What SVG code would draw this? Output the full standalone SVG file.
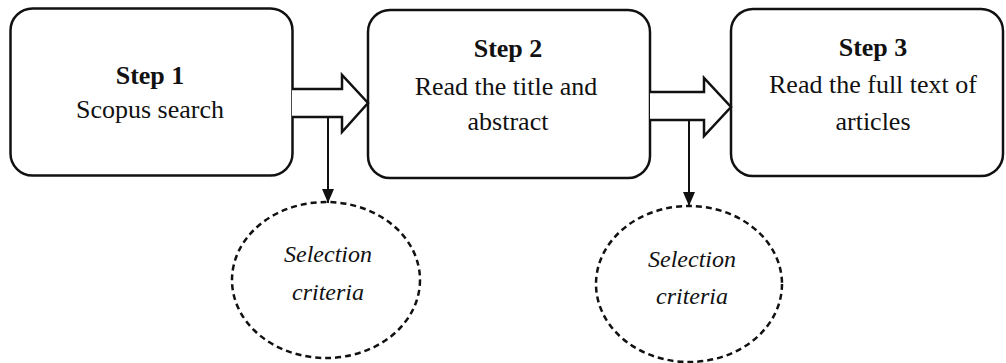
<svg xmlns="http://www.w3.org/2000/svg" width="1006" height="363" viewBox="0 0 1006 363">
<style>
.box{fill:#fff;stroke:#111;stroke-width:2.5}
.ell{fill:#fff;stroke:#111;stroke-width:2.5;stroke-dasharray:6 4}
.arr{fill:#fff;stroke:#111;stroke-width:2.5;stroke-linejoin:miter}
.ln{stroke:#111;stroke-width:2;fill:none}
text{font-family:"Liberation Serif","Times New Roman",serif;fill:#111;text-anchor:middle}
.t{font-size:26px}
.b{font-size:26px;font-weight:bold}
.i{font-size:24px;font-style:italic}
</style>
<defs>
<marker id="ah" viewBox="0 0 14 12" refX="14" refY="6" markerWidth="7" markerHeight="6" markerUnits="strokeWidth" orient="auto">
<path d="M0,0 L14,6 L0,12 Z" fill="#111"/>
</marker>
</defs>
<g id="step1">
<rect class="box" x="10.5" y="8.5" width="282" height="167" rx="22"/>
<text class="b" x="150" y="84">Step 1</text>
<text class="t" x="150" y="118">Scopus search</text>
</g>
<g id="step2">
<rect class="box" x="368" y="10" width="282" height="168" rx="22"/>
<text class="b" x="508" y="57">Step 2</text>
<text class="t" x="506" y="95">Read the title and</text>
<text class="t" x="508" y="130">abstract</text>
</g>
<g id="step3">
<rect class="box" x="731" y="9" width="272" height="167" rx="22"/>
<text class="b" x="873" y="56">Step 3</text>
<text class="t" x="873" y="93">Read the full text of</text>
<text class="t" x="873" y="130">articles</text>
</g>
<g id="criteria1">
<ellipse class="ell" cx="326" cy="280" rx="94" ry="78"/>
<text class="i" x="328" y="262">Selection</text>
<text class="i" x="328" y="300">criteria</text>
</g>
<g id="criteria2">
<ellipse class="ell" cx="689" cy="284" rx="93" ry="78"/>
<text class="i" x="692" y="267">Selection</text>
<text class="i" x="692" y="304">criteria</text>
</g>
<g id="connectors">
<path class="arr" d="M292,89 H342 V75 L368,103 L342,132 V117 H292"/>
<path class="arr" d="M650,92 H704 V78 L731,107 L704,136 V120 H650"/>
<line class="ln" x1="328" y1="117" x2="328" y2="203" marker-end="url(#ah)"/>
<line class="ln" x1="689" y1="120" x2="689" y2="206" marker-end="url(#ah)"/>
</g>
</svg>
